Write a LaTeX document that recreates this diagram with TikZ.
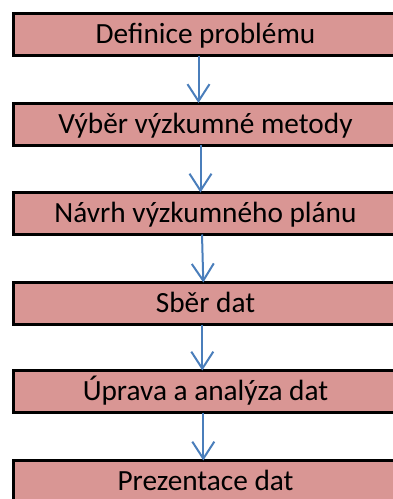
\documentclass[tikz,border=0pt]{standalone}
\usepackage{fontspec}
\setmainfont{Carlito}
\usetikzlibrary{arrows.meta}
\definecolor{boxfill}{HTML}{D99694}
\definecolor{arrowblue}{HTML}{4A7EBB}
\tikzset{
  stage/.style={draw=black, line width=3pt, fill=boxfill, rectangle,
    minimum width=385pt, minimum height=42pt, inner sep=0pt,
    text height=18.8pt, text depth=0pt,
    font=\fontsize{29.3}{33}\selectfont},
  flow/.style={draw=arrowblue, line width=2pt,
    -{Straight Barb[length=17pt, width=22pt, line width=2pt]}}
}
\begin{document}
\begin{tikzpicture}[x=1pt, y=-1pt]
  \useasboundingbox (0,0) rectangle (393,499);
  \clip (0,0) rectangle (393,499);
  % process stages, top to bottom
  \node[stage] (s1) at (205.5,34.5)  {Definice problému};
  \node[stage] (s2) at (205.5,124)   {Výběr výzkumné metody};
  \node[stage] (s3) at (205.5,213.5) {Návrh výzkumného plánu};
  \node[stage] (s4) at (205.5,303.5) {Sběr dat};
  \node[stage] (s5) at (205.5,391.5) {Úprava a analýza dat};
  \node[stage] (s6) at (205.5,481.5) {Prezentace dat};
  % connectors between consecutive stages
  \draw[flow] ([xshift=-7pt, yshift=1.5pt]s1.south) -- ([xshift=-7pt, yshift=-1.5pt]s2.north);
  \draw[flow] ([xshift=-5pt, yshift=1.5pt]s2.south) -- ([xshift=-5pt, yshift=-1.5pt]s3.north);
  \draw[flow] ([xshift=-3.5pt, yshift=1.5pt]s3.south) -- ([xshift=-2.2pt, yshift=-1.5pt]s4.north);
  \draw[flow] ([xshift=-3.2pt, yshift=1.5pt]s4.south) -- ([xshift=-3.2pt, yshift=-1.5pt]s5.north);
  \draw[flow] ([xshift=-2.2pt, yshift=1.5pt]s5.south) -- ([xshift=-2.2pt, yshift=-1.5pt]s6.north);
\end{tikzpicture}
\end{document}
